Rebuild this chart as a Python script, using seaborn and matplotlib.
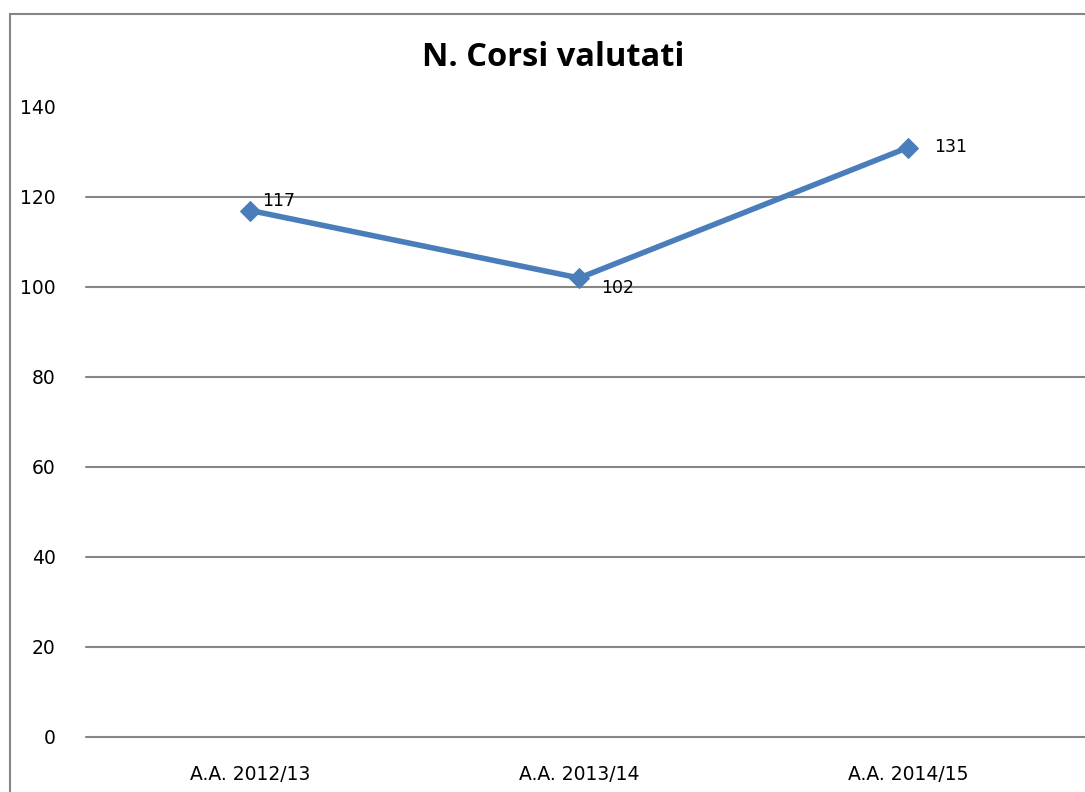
import matplotlib
matplotlib.use("Agg")
import matplotlib.pyplot as plt
import matplotlib.patches as mpatches
import seaborn as sns
import pandas as pd

categories = ["A.A. 2012/13", "A.A. 2013/14", "A.A. 2014/15"]
values = [117, 102, 131]
yticks = [0, 20, 40, 60, 80, 100, 120, 140]
title = "N. Corsi valutati"

sns.set_theme(style="white")
plt.rcParams['font.family'] = ['DejaVu Sans']
plt.rcParams['text.color'] = '#000000'

W, H = 1085, 792
fig = plt.figure(figsize=(W / 100, H / 100), dpi=100)
ax = fig.add_axes([86 / W, 1 - 737 / H, 1 - 86 / W, (737 - 107) / H])

df = pd.DataFrame({"cat": categories, "val": values})
df["x"] = range(len(categories))
sns.lineplot(data=df, x="x", y="val", ax=ax, color="#4a7ebb", linewidth=4,
             marker="D", markersize=10, markeredgecolor="#4a7ebb", sort=False, zorder=3)

ax.set_xlim(-0.5, (1085 - 250) / 329.0)
ax.set_ylim(0, 140)
ax.set_yticks(yticks)
ax.set_yticklabels([str(t) for t in yticks], fontsize=13.5, color="#000000")
ax.set_xticks(df["x"])
ax.set_xticklabels(categories, fontsize=13.5, color="#000000",
                   family=["Liberation Sans Narrow", "DejaVu Sans"])
ax.tick_params(axis="y", length=0, pad=22)
ax.tick_params(axis="x", length=0, pad=20)
ax.set_xlabel("")
ax.set_ylabel("")
for t in yticks[:-1]:
    ax.axhline(t, color="#868686", linewidth=1.5, zorder=1, clip_on=False)
for s in ax.spines.values():
    s.set_visible(False)

offsets = [(12, 9), (22, -10), (26, 1)]
for xi, v, off in zip(df["x"], values, offsets):
    ax.annotate(str(v), (xi, v), xytext=off, textcoords="offset pixels",
                ha="left", va="center", fontsize=12.5, color="#000000")

fig.text(553 / W, 1 - 58 / H, title, ha="center", va="center", fontsize=23.5,
         fontweight="bold", color="#000000", family=["Open Sans", "DejaVu Sans"])

border = mpatches.Rectangle((9.5 / W, -0.1), 1.2, 1.1 - 13.5 / H, transform=fig.transFigure,
                            fill=False, edgecolor="#868686", linewidth=1.5)
fig.add_artist(border)

fig.savefig("out.png", dpi=100)
